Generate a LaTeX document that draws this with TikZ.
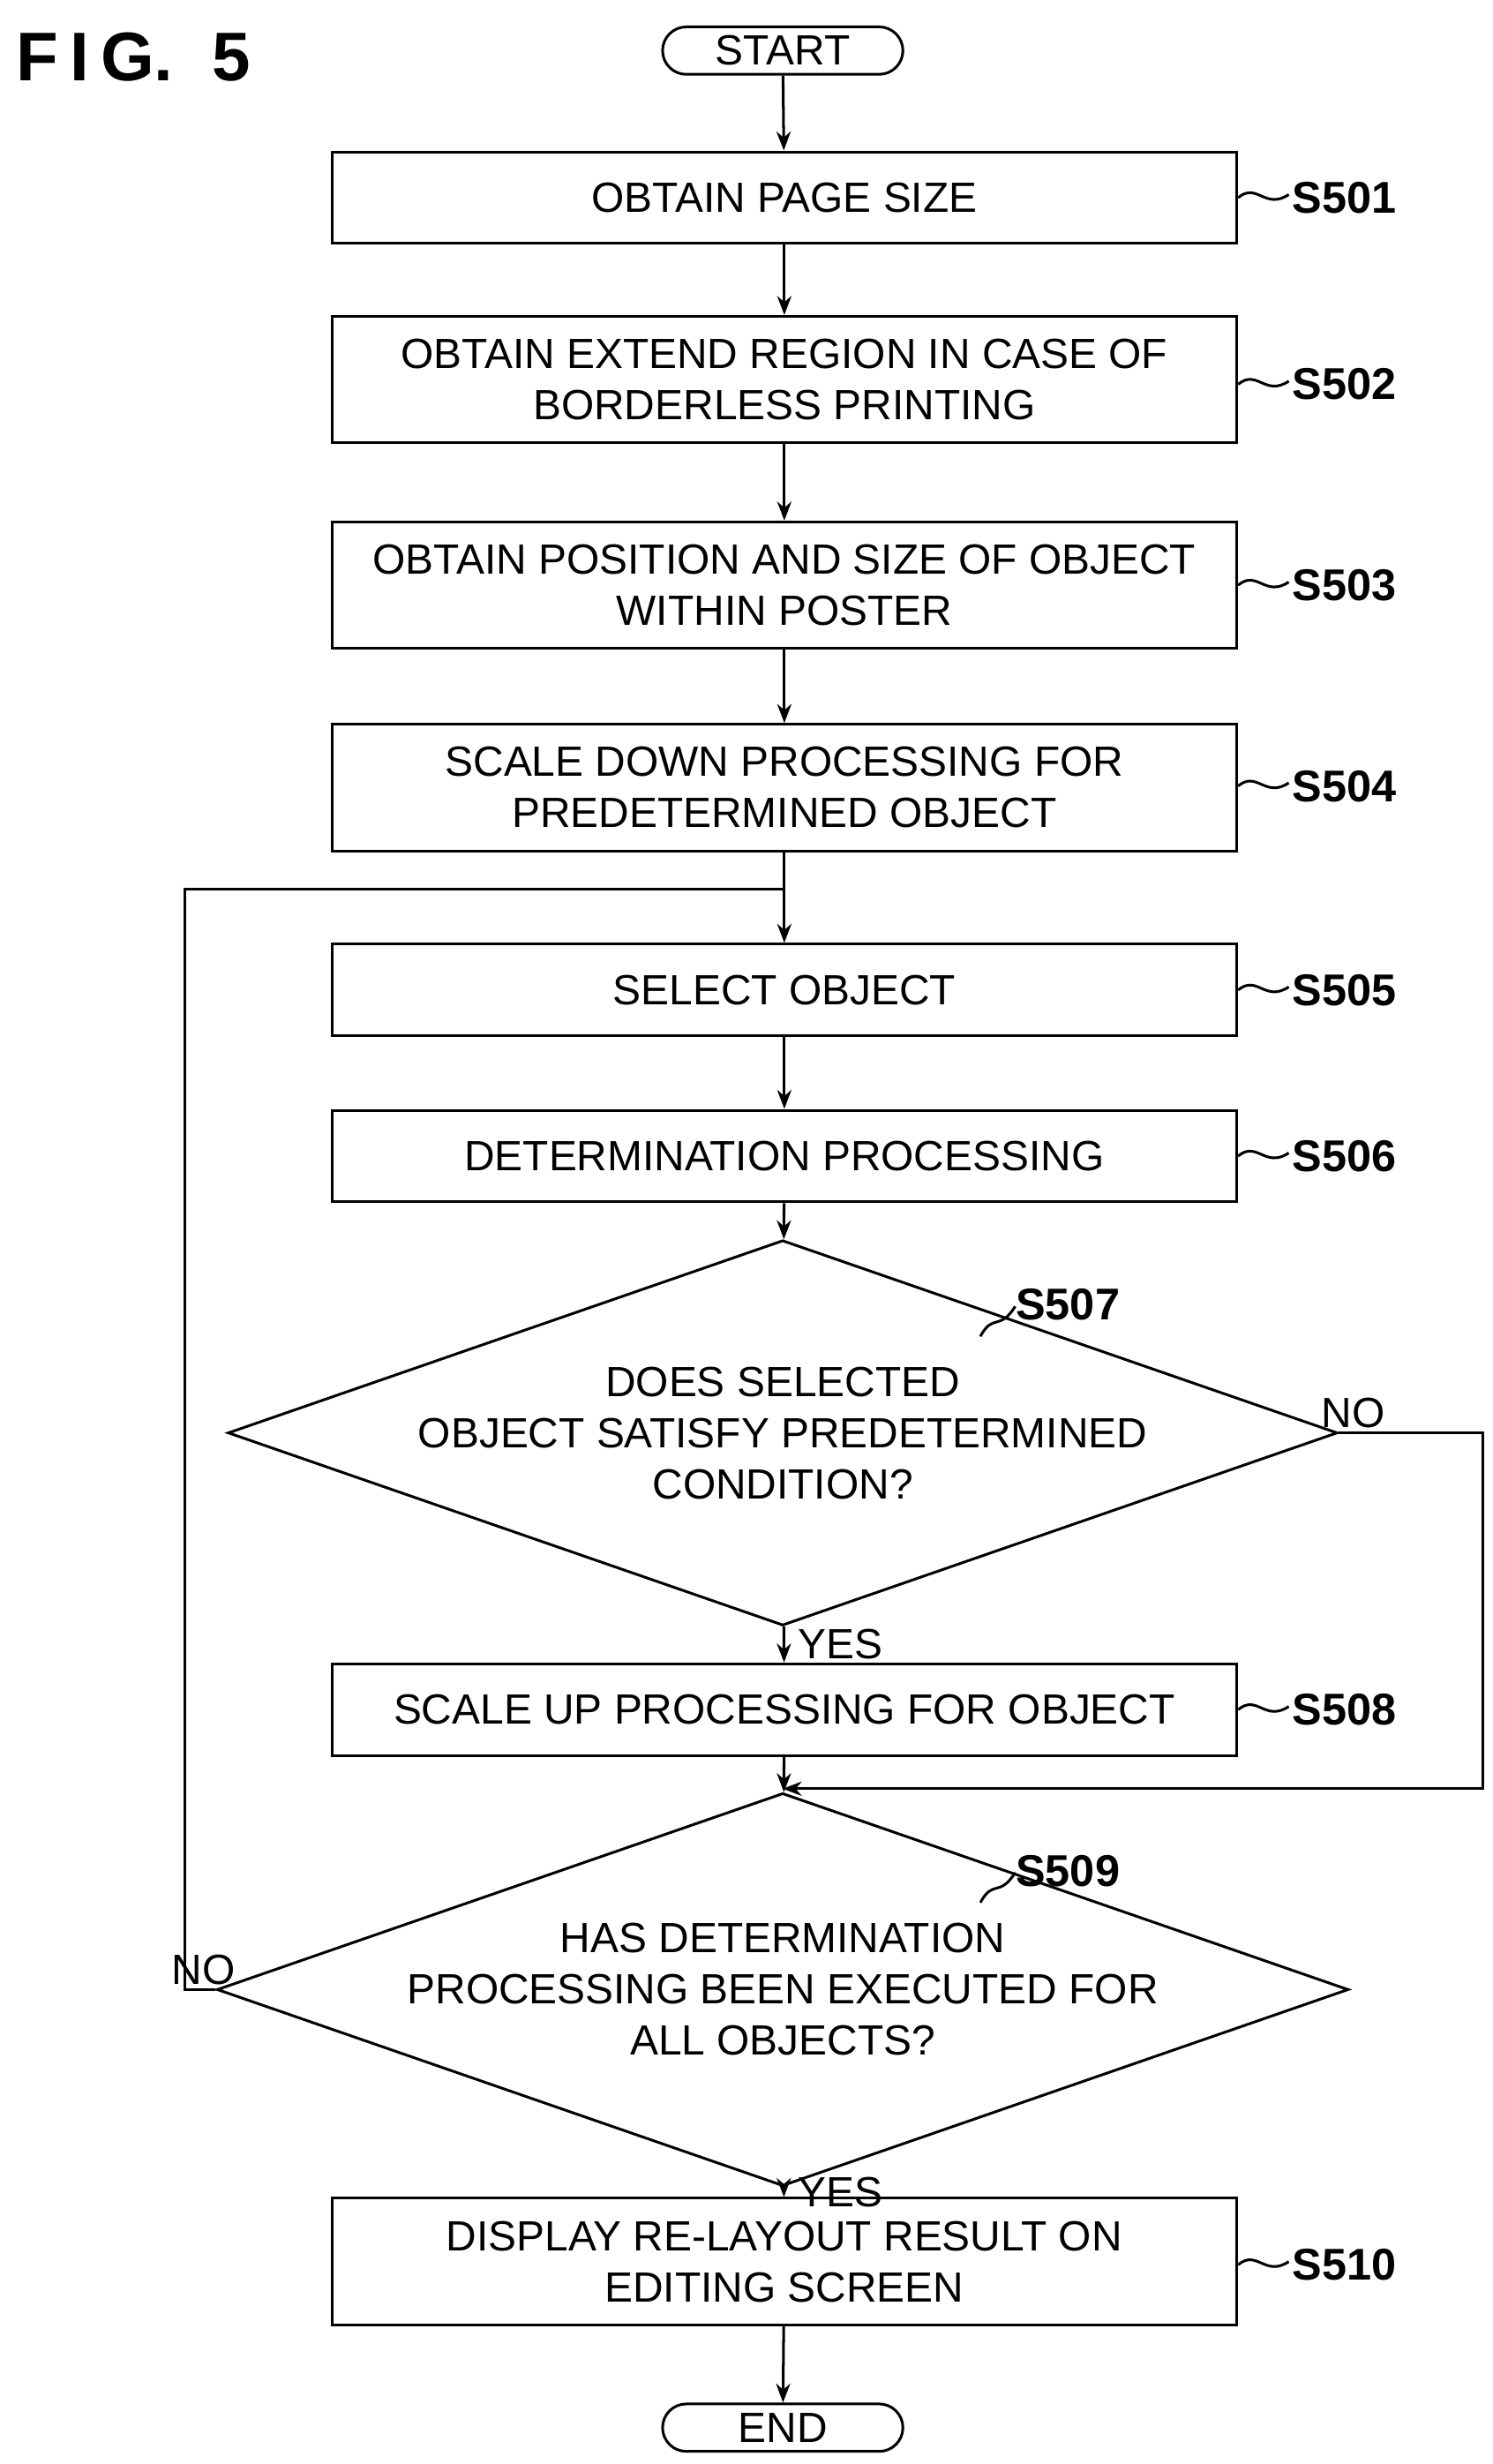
\documentclass[tikz,border=0pt]{standalone}
\usepackage{fontspec}
\setmainfont{Liberation Sans}
\usetikzlibrary{shapes.geometric,arrows.meta}
\begin{document}
\begin{tikzpicture}[x=0.05cm,y=-0.05cm,
  every node/.style={font=\fontsize{38}{46}\selectfont},
  box/.style={draw,line width=2.4pt,minimum width=28.6cm,inner sep=0pt,align=center},
  term/.style={draw,line width=2.4pt,rounded corners=0.75cm,minimum width=7.6cm,minimum height=1.5cm,inner sep=0pt},
  dia/.style={draw,line width=2.4pt,diamond,aspect=2.88,minimum width=28.5cm,minimum height=9.9cm,inner sep=0pt,align=center},
  ln/.style={line width=2.4pt},
  ar/.style={ln,-{Stealth[length=0.6cm,width=0.45cm]}},
  lab/.style={font=\fontsize{40}{46}\selectfont\bfseries,anchor=west},
  sq/.style={ln}]
\useasboundingbox (0,0) rectangle (944,1558);
\node[anchor=west,font=\fontsize{62}{70}\selectfont\bfseries] (fig) at (8,36) {F\,I\,G.\ \ 5};
\node[term] (start) at (495,32) {START};
\node[box,minimum height=2.9cm] (s1) at (496,125) {OBTAIN PAGE SIZE};
\node[box,minimum height=4cm] (s2) at (496,240) {OBTAIN EXTEND REGION IN CASE OF\\BORDERLESS PRINTING};
\node[box,minimum height=4cm] (s3) at (496,370) {OBTAIN POSITION AND SIZE OF OBJECT\\WITHIN POSTER};
\node[box,minimum height=4cm] (s4) at (496,498) {SCALE DOWN PROCESSING FOR\\PREDETERMINED OBJECT};
\node[box,minimum height=2.9cm] (s5) at (496,626) {SELECT OBJECT};
\node[box,minimum height=2.9cm] (s6) at (496,731) {DETERMINATION PROCESSING};
\node[dia] (s7) at (495,906) {DOES SELECTED\\OBJECT SATISFY PREDETERMINED\\CONDITION?};
\node[box,minimum height=2.9cm] (s8) at (496,1081) {SCALE UP PROCESSING FOR OBJECT};
\node[dia,minimum height=9cm] (s9) at (495,1258) {HAS DETERMINATION\\PROCESSING BEEN EXECUTED FOR\\ALL OBJECTS?};
\node[box,minimum height=4cm] (s10) at (496,1430) {DISPLAY RE-LAYOUT RESULT ON\\EDITING SCREEN};
\node[term] (end) at (495,1535) {END};
\coordinate (j1) at (495,562);
\coordinate (j2) at (495,1131);
\coordinate (l1) at (117,1258);
\coordinate (l2) at (117,562);
\coordinate (r1) at (938,906);
\coordinate (r2) at (938,1131);
\draw[ar] (start) -- (s1);
\draw[ar] (s1) -- (s2);
\draw[ar] (s2) -- (s3);
\draw[ar] (s3) -- (s4);
\draw[ar] (s4) -- (s5);
\draw[ar] (s5) -- (s6);
\draw[ar] (s6) -- (s7);
\draw[ar] (s7) -- node[right,xshift=0.3cm]{YES} (s8);
\draw[ar] (s8) -- (s9);
\draw[ar] (s9) -- node[right,xshift=0.3cm]{YES} (s10);
\draw[ar] (s10) -- (end);
\draw[ln] (s9.west) -- node[above,pos=0.4]{NO} (l1) -- (l2) -- (j1);
\draw[ar] (s7.east) -- node[above,pos=0.1]{NO} (r1) -- (r2) -- (j2);
\foreach \n/\y/\t in {s1/125/S501,s2/243/S502,s3/370/S503,s4/497/S504,s5/626/S505,s6/731/S506,s8/1081/S508,s10/1432/S510}{
  \draw[sq] (783,\y) .. controls (795,\y-10) and (800,\y+8) .. (815,\y-2);
  \node[lab] at (815,\y) {\t};
}
\draw[sq] (620,845) .. controls (628,830) and (632,842) .. (642,826);
\node[lab] at (640,825) {S507};
\draw[sq] (620,1203) .. controls (628,1188) and (632,1200) .. (642,1184);
\node[lab] at (640,1183) {S509};
\end{tikzpicture}
\end{document}
